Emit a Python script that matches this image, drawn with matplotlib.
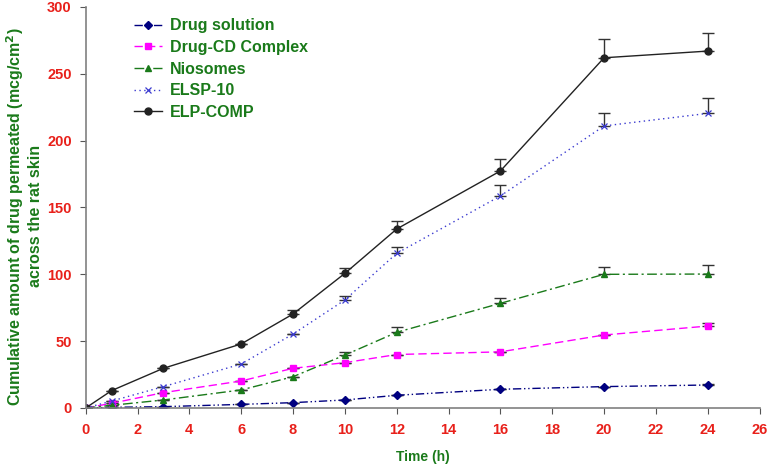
import matplotlib
matplotlib.use("Agg")
import matplotlib.pyplot as plt
import numpy as np

plt.rcParams['font.family'] = ['Liberation Sans', 'DejaVu Sans']

time_h = [0, 1, 3, 6, 8, 10, 12, 16, 20, 24]

drug_solution = [0, 0.5, 1, 2.7, 4, 6, 9.5, 14, 16, 17.2]
drug_cd = [0, 3.5, 11.5, 20.2, 29.7, 33.9, 40, 42, 54.6, 61.3]
niosomes = [0, 2, 6, 13.5, 23.4, 39.6, 56.6, 78.3, 100, 100.2]
elsp10 = [0, 5.2, 16, 32.9, 55.3, 80.8, 115.7, 158.6, 211, 220.4]
elp_comp = [0, 13, 29.7, 47.9, 70.3, 100.7, 133.9, 177.3, 262, 267]

err_drug_solution = [0, 0, 0, 0, 0, 0, 0, 0, 0, 1]
err_drug_cd = [0, 0, 0, 0, 0, 0, 0, 0, 0, 2]
err_niosomes = [0, 0, 0, 0, 0, 2.5, 4, 4.2, 5.7, 7]
err_elsp10 = [0, 0, 0, 0, 0, 3, 5, 8, 10, 11.5]
err_elp_comp = [0, 0, 0, 0, 3, 4, 6, 9, 14, 13.5]

labels = ["Drug solution", "Drug-CD Complex", "Niosomes", "ELSP-10", "ELP-COMP"]
x_ticks = list(range(0, 27, 2))
y_ticks = [0, 50, 100, 150, 200, 250, 300]

fig = plt.figure(figsize=(7.67, 4.65), dpi=100)
ax = fig.add_axes([0.1117, 0.1226, 0.8786, 0.8624])

series = [
    (drug_solution, err_drug_solution, dict(color='#000080', linestyle=(0, (6, 2, 1, 2, 1, 2)), marker='D', markersize=4)),
    (drug_cd, err_drug_cd, dict(color='#ff00ff', linestyle=(0, (6, 3)), marker='s', markersize=5)),
    (niosomes, err_niosomes, dict(color='#1a7a1a', linestyle=(0, (7, 2.5, 1.5, 2.5)), marker='^', markersize=5)),
    (elsp10, err_elsp10, dict(color='#3a3ad0', linestyle=(0, (1, 2.5)), marker='x', markersize=5, markeredgewidth=0.9)),
    (elp_comp, err_elp_comp, dict(color='#222222', linestyle='-', marker='o', markersize=5)),
]

for (vals, errs, style), lab in zip(series, labels):
    ax.errorbar(time_h, vals, yerr=[np.zeros(len(errs)), errs], fmt='none',
                ecolor='#333333', elinewidth=1.0, capsize=4, capthick=1.0, zorder=1)
    ax.plot(time_h, vals, linewidth=1.0, label=lab, zorder=2, **style)

ax.set_xlim(0, 26)
ax.set_ylim(0, 300)
ax.set_xticks(x_ticks)
ax.set_yticks(y_ticks)
for s in ['top', 'right']:
    ax.spines[s].set_visible(False)
for s in ['left', 'bottom']:
    ax.spines[s].set_color('#808080')
    ax.spines[s].set_linewidth(1.2)
ax.tick_params(axis='both', direction='out', length=4, color='#555555',
               labelcolor='#e8201a', labelsize=10.5)
for t in ax.get_xticklabels() + ax.get_yticklabels():
    t.set_fontweight('bold')
ax.tick_params(axis='x', pad=7)
ax.tick_params(axis='y', pad=6)

ax.set_xlabel("Time (h)", color='#1a7a1a', fontweight='bold', fontsize=10, labelpad=9)
ax.set_ylabel("Cumulative amount of drug permeated (mcg/cm$^\\mathbf{2}$)\nacross the rat skin",
              color='#1a7a1a', fontweight='bold', fontsize=11.5, linespacing=1.1)
ax.yaxis.set_label_coords(-0.064, 0.478)

leg = ax.legend(loc='upper left', bbox_to_anchor=(0.05, 1.008), frameon=False,
                handlelength=1.8, handletextpad=0.45, labelspacing=0.42,
                prop={'weight': 'bold', 'size': 11.5})
for t in leg.get_texts():
    t.set_color('#1a7a1a')

fig.savefig("out.png", dpi=100)
